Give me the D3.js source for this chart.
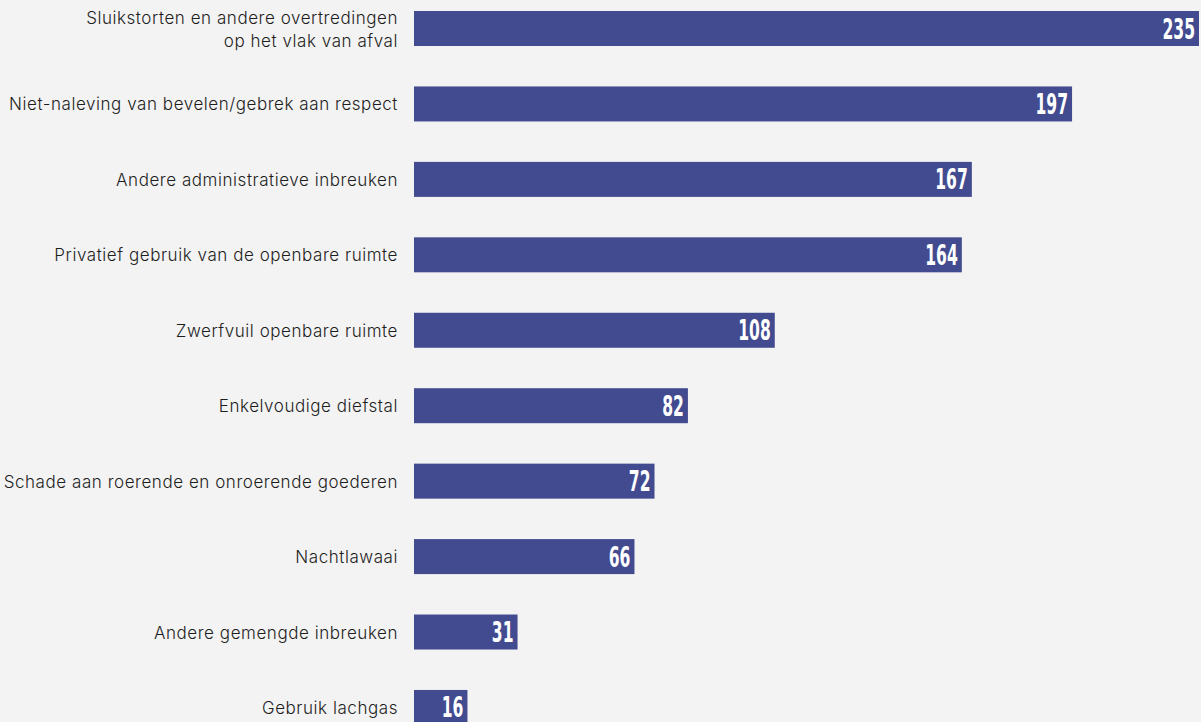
<!DOCTYPE html>
<html><head><meta charset="utf-8">
<script src="https://cdn.jsdelivr.net/npm/d3@7"></script>
<style>
html,body{margin:0;padding:0;background:#f3f3f3;overflow:hidden}
svg{display:block}
</style></head>
<body><svg id="c" width="1201" height="722"></svg>
<script>
const categories = [
  ["Sluikstorten en andere overtredingen","op het vlak van afval"],
  ["Niet-naleving van bevelen/gebrek aan respect"],
  ["Andere administratieve inbreuken"],
  ["Privatief gebruik van de openbare ruimte"],
  ["Zwerfvuil openbare ruimte"],
  ["Enkelvoudige diefstal"],
  ["Schade aan roerende en onroerende goederen"],
  ["Nachtlawaai"],
  ["Andere gemengde inbreuken"],
  ["Gebruik lachgas"]
];
const values = [235,197,167,164,108,82,72,66,31,16];

const svg = d3.select("#c");
svg.append("rect").attr("width",1201).attr("height",722).attr("fill","#f3f3f3");
const keys = categories.map((d,i)=>i);
const x = d3.scaleLinear().domain([0,235]).range([414,1199]);
const step = 75.44;
const y = d3.scaleBand().domain(keys).range([11 - 0.268*step, 11 - 0.268*step + 10*step]).paddingInner(0.536).paddingOuter(0.268);

svg.selectAll("rect.bar").data(values).join("rect").attr("class","bar")
  .attr("x",x(0)).attr("y",(d,i)=>y(i)).attr("width",d=>x(d)-x(0)).attr("height",y.bandwidth())
  .attr("fill","#424b8f");

svg.selectAll("text.val").data(values).join("text").attr("class","val")
  .attr("transform",(d,i)=>`translate(${x(d)-4},${y(i)+y.bandwidth()/2+10}) scale(0.62,1)`)
  .attr("text-anchor","end")
  .attr("font-family","'Liberation Sans Narrow','DejaVu Sans Condensed',sans-serif")
  .attr("font-weight","bold").attr("font-size",28).attr("fill","#fff")
  .text(d=>d);

const lab = svg.selectAll("text.lab").data(categories).join("text").attr("class","lab")
  .attr("text-anchor","end")
  .attr("font-family","Inter, sans-serif").attr("font-size",17).attr("letter-spacing","0.55px")
  .attr("font-weight",300).attr("fill","#1e1e1e");
lab.each(function(lines,i){
  const t = d3.select(this);
  const cy = y(i)+y.bandwidth()/2;
  const n = lines.length;
  lines.forEach((l,j)=>{
    t.append("tspan").attr("x",398).attr("y",cy + (j-(n-1)/2)*23 + 6.5).text(l);
  });
});
</script></body></html>
